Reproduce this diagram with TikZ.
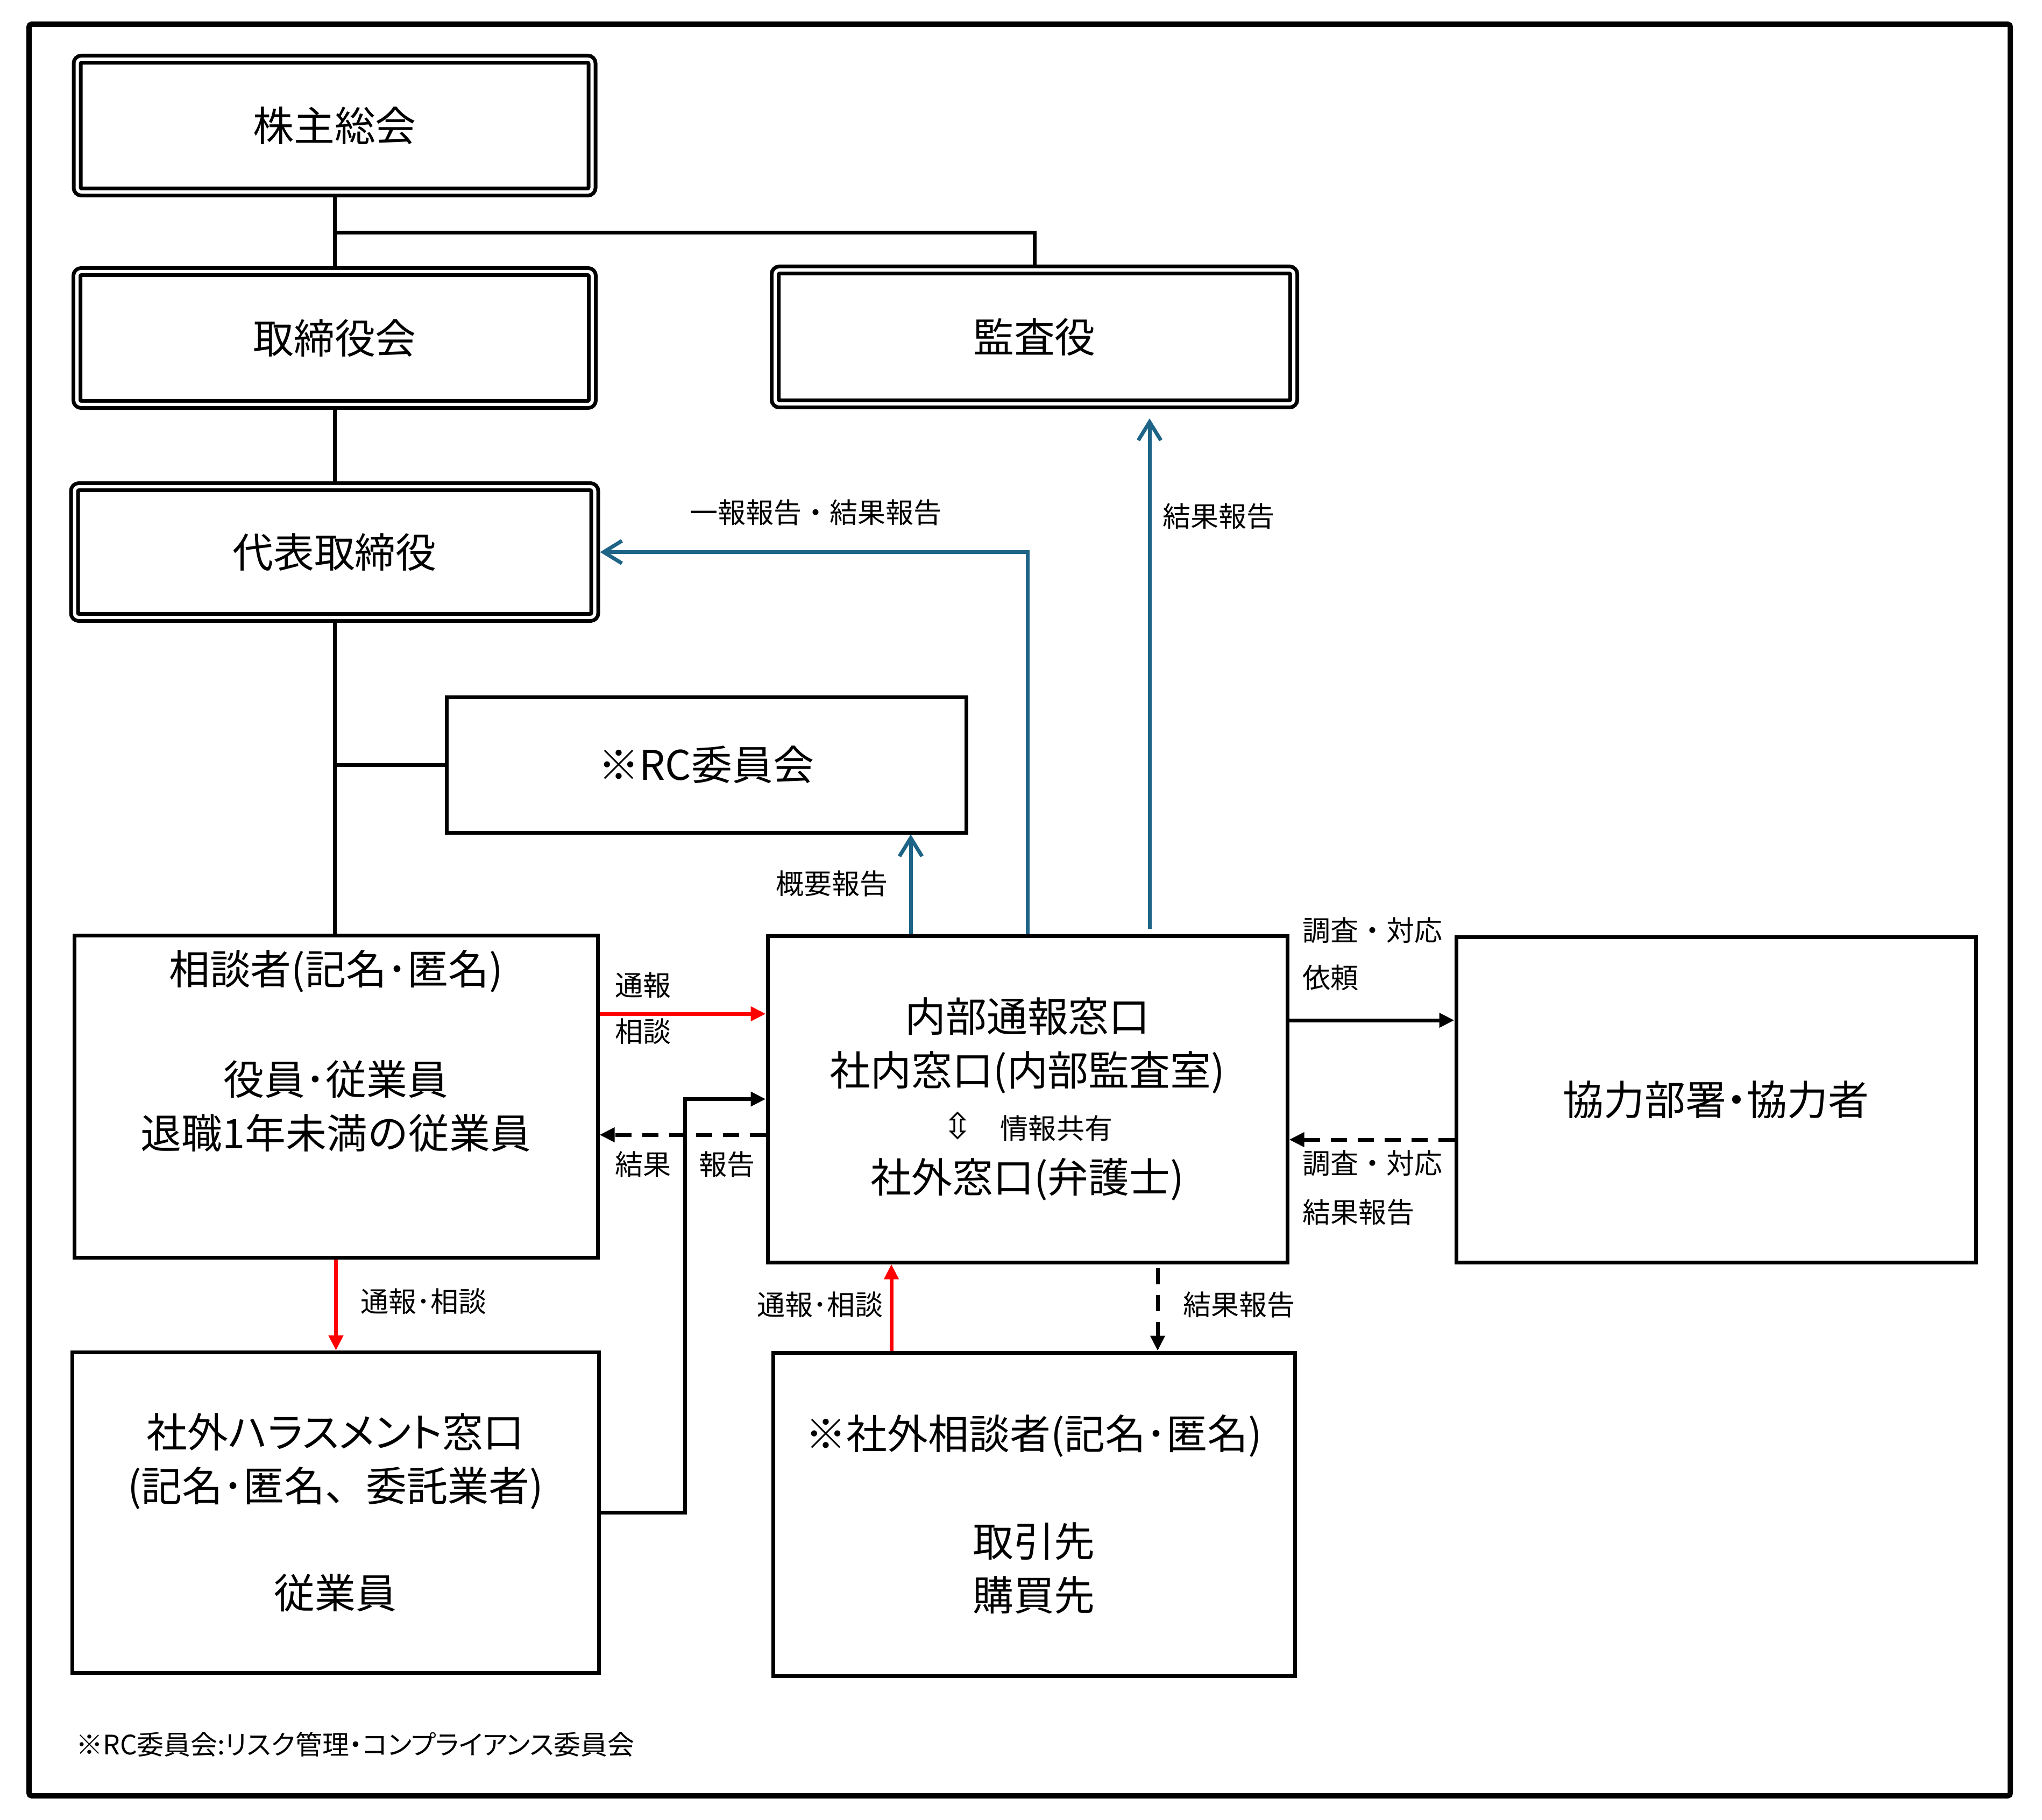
\documentclass[tikz,border=0pt]{standalone}
\usepackage{fontspec}
\setmainfont{Noto Sans CJK JP}
\newfontfamily\arrowsym{DejaVu Sans}
\usetikzlibrary{arrows.meta, positioning}
\tikzset{>={Triangle[width=2.6mm,length=2.8mm]}}
\definecolor{reportBlue}{RGB}{30, 100, 135}
\definecolor{tsuhoRed}{RGB}{255, 0, 0}
\newcommand{\boxfont}{\fontsize{21.6}{28.4}\selectfont}
\newcommand{\lblfont}{\fontsize{14.8}{18}\selectfont}
\newcommand{\palt}{\addfontfeatures{RawFeature=+palt}}

\begin{document}
\begin{tikzpicture}[
    line width = 0.7mm,
    dbox/.style = {draw, double, double distance=0.6mm, rounded corners=0.8mm,
        align=center, font=\boxfont, inner sep=0mm, outer sep=1mm},
    sbox/.style = {draw, align=center, font=\boxfont, inner sep=0mm},
    boxtext/.style = {align=center, font=\boxfont, inner sep=0mm},
    lbl/.style = {font=\lblfont, inner sep=0mm, anchor=west},
    conn/.style = {draw=black},
    redarr/.style = {->, draw=tsuhoRed},
    blkarr/.style = {->, draw=black},
    dasharr/.style = {->, draw=black, dash pattern=on 3mm off 2mm},
    bluearr/.style = {-{Straight Barb[length=3.4mm,width=4.2mm]}, draw=reportBlue}
  ]
  \useasboundingbox (0,0) rectangle (37.96,-33.84);
  \draw[line width=1mm, rounded corners=0.5mm] (0.54,-0.45) rectangle (37.37,-33.39);

  \node[dbox, minimum width=9.57cm, minimum height=2.47cm] (kabunushi) at (6.22,-2.335) {株主総会};
  \node[dbox, minimum width=9.58cm, minimum height=2.47cm] (torishimari) at (6.22,-6.285) {取締役会};
  \node[dbox, minimum width=9.64cm, minimum height=2.49cm] (kansa) at (19.23,-6.265) {監査役};
  \node[dbox, minimum width=9.67cm, minimum height=2.43cm] (daihyo) at (6.22,-10.265) {代表取締役};
  \node[sbox, minimum width=9.66cm, minimum height=2.52cm] (rc) at (13.13,-14.22) {※RC委員会};

  \node[sbox, minimum width=9.73cm, minimum height=5.99cm] (sodan) at (6.245,-20.385) {};
  \node[boxtext] (sodan-who) at ([yshift=-0.70cm]sodan.north) {相談者(記名･匿名)};
  \node[boxtext] (sodan-body) at ([yshift=-0.18cm]sodan.center) {役員･従業員\\退職1年未満の従業員};

  \node[sbox, minimum width=9.66cm, minimum height=6.07cm] (naibu) at (19.10,-20.435)
    {内部通報窓口\\社内窓口(内部監査室)\\{\lblfont{\arrowsym\fontsize{19}{19}\selectfont ⇳}\quad 情報共有}\\社外窓口(弁護士)};
  \node[sbox, minimum width=9.66cm, minimum height=6.05cm] (kyoryoku) at (31.90,-20.445) {\palt 協力部署・協力者};
  \node[sbox, minimum width=9.79cm, minimum height=5.96cm] (harass) at (6.235,-28.125)
    {{\palt 社外ハラスメント窓口}\\(記名･匿名、委託業者)\\[28.4pt]従業員};
  \node[sbox, minimum width=9.70cm, minimum height=6.01cm] (shagai) at (19.22,-28.155)
    {※社外相談者(記名･匿名)\\[28.4pt]取引先\\購買先};

  \coordinate (jct) at ([yshift=-0.66cm]kabunushi.south);
  \draw[conn] (kabunushi.south) -- (torishimari.north);
  \draw[conn] (jct) -| (kansa.north);
  \draw[conn] (torishimari.south) -- (daihyo.north);
  \draw[conn] (daihyo.south) -- (daihyo.south |- sodan.north);
  \draw[conn] (daihyo.south |- rc.west) -- (rc.west);

  \coordinate (tsuho-in) at ([yshift=1.585cm]naibu.west);
  \coordinate (kekka-out) at ([yshift=-0.665cm]naibu.west);
  \coordinate (irai-out) at ([yshift=1.465cm]naibu.east);
  \coordinate (chosa-in) at ([yshift=-0.745cm]kyoryoku.west);
  \coordinate (gaiyo-out) at ([xshift=-2.17cm]naibu.north);
  \coordinate (kansa-in) at ([xshift=2.14cm,yshift=-0.17cm]kansa.south);
  \coordinate (kansa-out) at ([yshift=0.1cm]naibu.north -| kansa-in);
  \coordinate (soudan-out) at ([xshift=-2.65cm]shagai.north);
  \coordinate (kekka-down) at ([xshift=2.42cm,yshift=-0.07cm]naibu.south);

  \draw[redarr] (sodan.east |- tsuho-in) -- (tsuho-in);
  \draw[redarr] (sodan.south) -- (sodan.south |- harass.north);
  \draw[redarr] (soudan-out) -- (soudan-out |- naibu.south);
  \draw[blkarr] (harass.east) -- ++(1.57,0) |- (naibu.west);
  \draw[dasharr] (kekka-out) -- (kekka-out -| sodan.east);
  \draw[blkarr] (irai-out) -- (irai-out -| kyoryoku.west);
  \draw[dasharr] (chosa-in) -- (chosa-in -| naibu.east);
  \draw[dasharr] (kekka-down) -- (kekka-down |- shagai.north);
  \draw[bluearr] (gaiyo-out) -- (gaiyo-out |- rc.south);
  \draw[bluearr] (naibu.north) |- (daihyo.east);
  \draw[bluearr] (kansa-out) -- (kansa-in);

  \node[lbl] (l-tsuho) at (11.40,-18.32) {通報};
  \node[lbl] (l-sodan) at (11.40,-19.18) {相談};
  \node[lbl] (l-kekka) at (11.40,-21.65) {結果};
  \node[lbl] (l-hokoku) at (12.96,-21.65) {報告};
  \node[lbl] (l-tsuho-h) at (6.67,-24.20) {通報･相談};
  \node[lbl] (l-tsuho-g) at (14.04,-24.26) {通報･相談};
  \node[lbl] (l-kekka-g) at (21.96,-24.26) {結果報告};
  \node[lbl] (l-gaiyo) at (14.39,-16.43) {概要報告};
  \node[lbl] (l-ippo) at (12.79,-9.53) {一報報告・結果報告};
  \node[lbl] (l-kekka-k) at (21.58,-9.60) {結果報告};
  \node[lbl] (l-chosa1) at (24.18,-17.30) {調査・対応};
  \node[lbl] (l-irai) at (24.18,-18.18) {依頼};
  \node[lbl] (l-chosa2) at (24.18,-21.63) {調査・対応};
  \node[lbl] (l-kekka-r) at (24.18,-22.54) {結果報告};
  \node[lbl, font=\fontsize{14.2}{18}\selectfont] (note) at (1.38,-32.43) {\palt ※RC委員会:リスク管理・コンプライアンス委員会};
\end{tikzpicture}
\end{document}
